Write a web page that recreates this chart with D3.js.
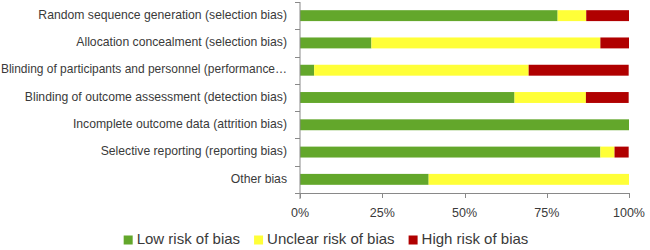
<!DOCTYPE html>
<html>
<head>
<meta charset="utf-8">
<script src="https://cdn.jsdelivr.net/npm/d3@7"></script>
<style>
  body { margin: 0; background: #fff; }
  text { font-family: "Liberation Sans", Arial, sans-serif; fill: #3a3a3a; }
</style>
</head>
<body>
<div id="chart"></div>
<script>
// Risk of bias domains (top to bottom)
const categories = [
    'Random sequence generation (selection bias)',
    'Allocation concealment (selection bias)',
    'Blinding of participants and personnel (performance…',
    'Blinding of outcome assessment (detection bias)',
    'Incomplete outcome data (attrition bias)',
    'Selective reporting (reporting bias)',
    'Other bias'
];
// percent of studies per judgement
const lowRisk = [78.3, 21.7, 4.3, 65.2, 100, 91.3, 39.1];
const unclearRisk = [8.7, 69.6, 65.2, 21.7, 0, 4.3, 60.9];
const highRisk = [13.0, 8.7, 30.4, 13.0, 0, 4.3, 0];
const seriesNames = ['Low risk of bias', 'Unclear risk of bias', 'High risk of bias'];
const seriesColors = ['#63a72b', '#ffff38', '#b00000'];
const xTicks = [0, 25, 50, 75, 100];

const width = 650, height = 250;
const margin = { top: 2, right: 21, bottom: 57, left: 300 };

const svg = d3.select('#chart')
    .append('svg')
    .attr('width', width)
    .attr('height', height);

const x = d3.scaleLinear()
    .domain([0, 100])
    .range([margin.left, width - margin.right]);

const y = d3.scaleBand()
    .domain(categories)
    .range([margin.top, height - margin.bottom])
    .paddingInner(0.6)
    .paddingOuter(0.3);

// build rows for the stack
const rows = categories.map((c, i) => ({
    cat: c,
    'Low risk of bias': lowRisk[i],
    'Unclear risk of bias': unclearRisk[i],
    'High risk of bias': highRisk[i]
}));
const stacked = d3.stack().keys(seriesNames)(rows);

svg.selectAll('.series')
    .data(stacked)
    .enter()
    .append('g')
    .attr('fill', (d, i) => seriesColors[i])
    .selectAll('rect')
    .data(d => d)
    .enter()
    .append('rect')
    .attr('x', d => x(d[0]))
    .attr('y', d => y(d.data.cat))
    .attr('width', d => x(d[1]) - x(d[0]))
    .attr('height', y.bandwidth());

// axes
const axisColor = '#898989';
const bottomY = height - margin.bottom;
const step = y.step();
const y0 = margin.top;

// vertical axis with ticks between categories
svg.append('line')
    .attr('x1', x(0)).attr('x2', x(0))
    .attr('y1', y0).attr('y2', bottomY + 6)
    .attr('stroke', axisColor);
svg.selectAll('.ytick')
    .data(d3.range(categories.length + 1))
    .enter()
    .append('line')
    .attr('x1', x(0) - 5).attr('x2', x(0))
    .attr('y1', i => Math.round(y0 + i * step) + 0.5)
    .attr('y2', i => Math.round(y0 + i * step) + 0.5)
    .attr('stroke', axisColor);

// horizontal axis
svg.append('line')
    .attr('x1', x(0)).attr('x2', x(100))
    .attr('y1', bottomY + 0.5).attr('y2', bottomY + 0.5)
    .attr('stroke', axisColor);
svg.selectAll('.xtick')
    .data(xTicks)
    .enter()
    .append('line')
    .attr('x1', d => Math.round(x(d)) + 0.5).attr('x2', d => Math.round(x(d)) + 0.5)
    .attr('y1', bottomY).attr('y2', bottomY + 5)
    .attr('stroke', axisColor);
svg.selectAll('.xlabel')
    .data(xTicks)
    .enter()
    .append('text')
    .attr('x', d => x(d))
    .attr('y', bottomY + 21)
    .attr('dominant-baseline', 'middle')
    .attr('text-anchor', 'middle')
    .style('font-size', '12.5px')
    .text(d => d + '%');

// category labels (shrink any that would run off the left edge)
const labelRight = x(0) - 13;
svg.selectAll('.ylabel')
    .data(categories)
    .enter()
    .append('text')
    .attr('x', labelRight)
    .attr('y', d => y(d) + y.bandwidth() / 2)
    .attr('dominant-baseline', 'middle')
    .attr('text-anchor', 'end')
    .style('font-size', '12.2px')
    .text(d => d)
    .each(function () {
        const w = this.getComputedTextLength();
        if (w > labelRight - 1) {
            d3.select(this).style('font-size', (12.2 * (labelRight - 1) / w) + 'px');
        }
    });

// legend, centred under the chart
const legend = svg.append('g');
let lx = 0;
seriesNames.forEach((name, i) => {
    legend.append('rect')
        .attr('x', lx).attr('y', -4.5)
        .attr('width', 9).attr('height', 9)
        .attr('fill', seriesColors[i]);
    const t = legend.append('text')
        .attr('x', lx + 13)
        .attr('y', 0)
        .attr('dominant-baseline', 'middle')
        .style('font-size', '15px')
        .text(name);
    lx += 13 + t.node().getComputedTextLength() + 14;
});
const legendWidth = lx - 14;
legend.attr('transform', `translate(${(width - legendWidth) / 2 + 1},240)`);
</script>
</body>
</html>
